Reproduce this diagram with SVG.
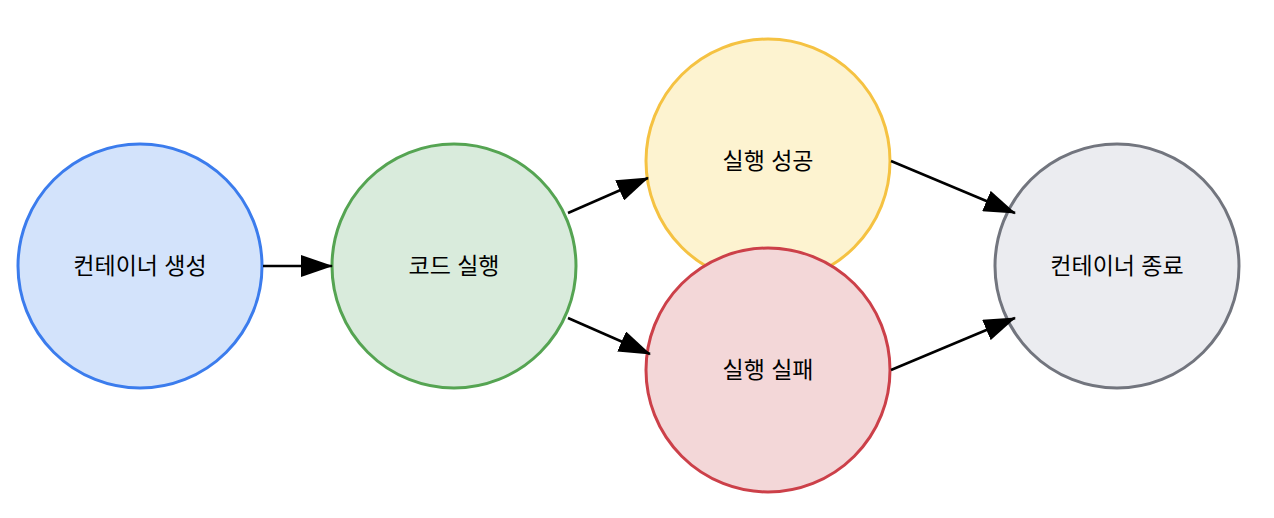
<svg xmlns="http://www.w3.org/2000/svg" width="1274" height="518" viewBox="0 0 1274 518">
<style>
circle{stroke-width:3}
text{font-family:"Liberation Sans","Noto Sans CJK KR",sans-serif;font-size:23px;text-anchor:middle;dominant-baseline:central;fill:#000}
.c line{stroke:#000;stroke-width:2.5;marker-end:url(#a)}
</style>
<defs><marker id="a" markerWidth="32" markerHeight="22" refX="31" refY="11" orient="auto" markerUnits="userSpaceOnUse" viewBox="0 0 32 22"><path d="M0,0L32,11L0,22z" fill="#000"/></marker></defs>
<rect width="1274" height="518" fill="#fff"/>
<g id="n1"><circle cx="140" cy="266" r="122" fill="#d3e3fb" stroke="#3b7ced"/><text x="140" y="266">컨테이너 생성</text></g>
<g id="n2"><circle cx="454" cy="266" r="122" fill="#d9ebdc" stroke="#55a452"/><text x="454" y="266">코드 실행</text></g>
<g id="n3"><circle cx="768" cy="161" r="122" fill="#fdf3d0" stroke="#f5c242"/><text x="768" y="161">실행 성공</text></g>
<g id="n4"><circle cx="768" cy="370" r="122" fill="#f3d7d8" stroke="#cc4049"/><text x="768" y="370">실행 실패</text></g>
<g id="n5"><circle cx="1117" cy="266" r="122" fill="#ebecf0" stroke="#72757e"/><text x="1117" y="266">컨테이너 종료</text></g>
<g class="c" id="connectors">
<line x1="263" y1="266" x2="332" y2="266"/>
<line x1="568" y1="213" x2="648" y2="178"/>
<line x1="568" y1="318" x2="650" y2="354"/>
<line x1="891" y1="161" x2="1015" y2="213"/>
<line x1="891" y1="370" x2="1015" y2="318"/>
</g>
</svg>
